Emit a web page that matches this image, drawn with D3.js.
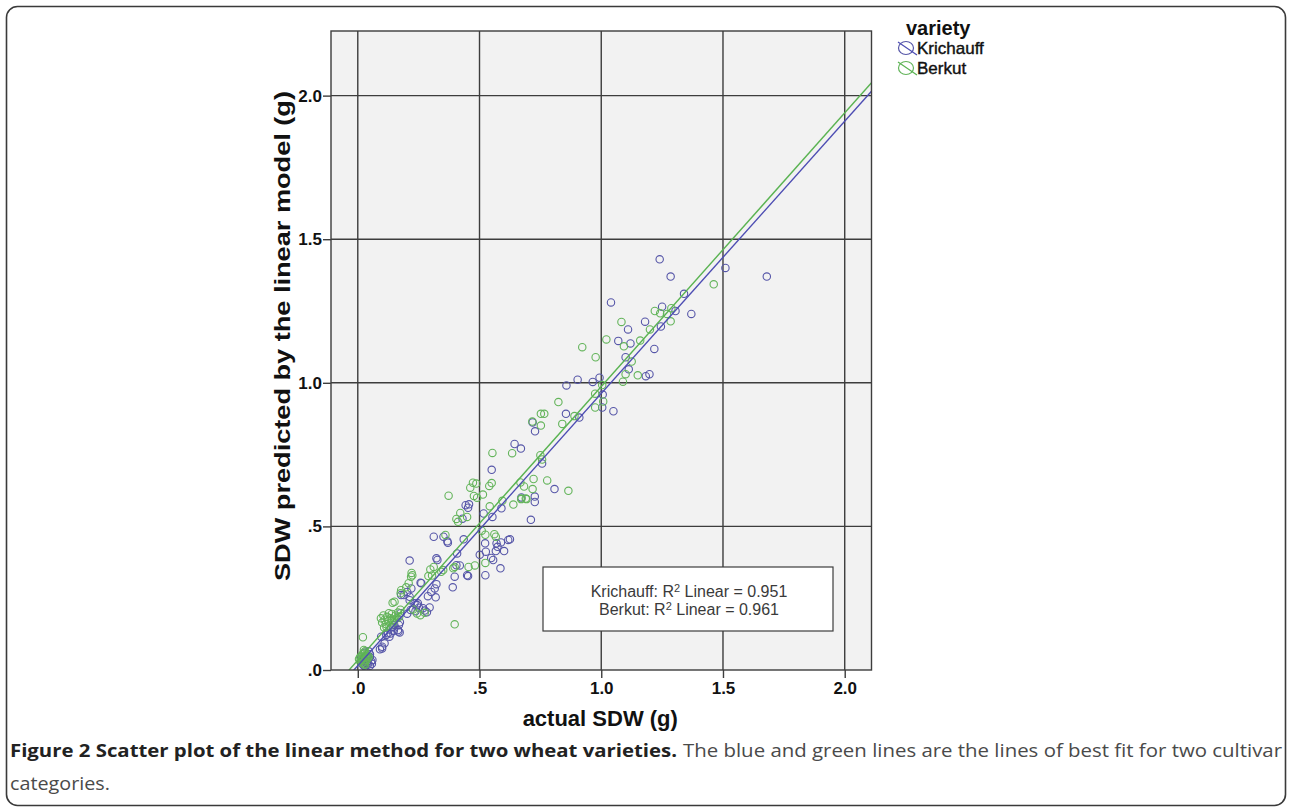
<!DOCTYPE html>
<html>
<head>
<meta charset="utf-8">
<script src="https://cdn.jsdelivr.net/npm/d3@7"></script>
<style>
  html, body { margin: 0; padding: 0; background: #ffffff; }
  svg { display: block; }
</style>
</head>
<body>
<svg id="fig" width="1292" height="812"></svg>
<script>
// ---- data -------------------------------------------------------------
const varieties = ["Krichauff", "Berkut"];

// [actual SDW (g), SDW predicted by the linear model (g)]
const krichauffPoints = [
  [1.24,1.43],[1.51,1.40],[1.68,1.37],[1.285,1.37],[1.34,1.31],[1.04,1.28],[1.25,1.265],
  [1.305,1.25],[1.37,1.24],[1.245,1.196],[1.18,1.213],[1.11,1.186],[1.07,1.146],[1.12,1.137],
  [1.218,1.118],[1.10,1.089],[1.113,1.047],[1.198,1.03],[1.183,1.023],[0.903,1.011],
  [0.965,1.003],[0.993,1.018],[0.857,0.991],[1.006,0.959],[1.004,0.914],[1.05,0.901],
  [0.855,0.892],[0.91,0.879],[0.718,0.862],[0.728,0.831],[0.644,0.787],[0.67,0.771],
  [0.757,0.719],[0.55,0.697],
  [0.808,0.63],[0.727,0.604],[0.727,0.585],[0.711,0.523],[0.672,0.601],[0.443,0.574],
  [0.453,0.565],[0.457,0.577],[0.43,0.527],[0.517,0.545],[0.553,0.533],[0.59,0.563],
  [0.312,0.464],[0.352,0.464],[0.368,0.448],[0.37,0.443],[0.435,0.455],[0.523,0.441],[0.57,0.441],
  [0.588,0.444],[0.618,0.453],[0.625,0.455],[0.501,0.401],[0.526,0.412],[0.567,0.414],
  [0.574,0.429],[0.601,0.414],[0.556,0.383],[0.548,0.39],[0.586,0.354],[0.524,0.33],
  [0.449,0.33],[0.408,0.406],[0.405,0.365],[0.419,0.364],[0.398,0.325],[0.39,0.288],
  [0.453,0.327],[0.323,0.389],[0.327,0.383],[0.213,0.381],[0.261,0.302],[0.258,0.304],[0.323,0.299],
  [0.316,0.284],[0.32,0.253],[0.288,0.257],[0.302,0.272],[0.22,0.284],[0.203,0.272],[0.189,0.261],
  [0.213,0.255],[0.178,0.261],[0.213,0.243],[0.247,0.232],[0.251,0.217],[0.233,0.232],[0.217,0.209],
  [0.244,0.226],[0.237,0.205],[0.268,0.215],[0.295,0.218],[0.284,0.201],[0.275,0.207],
  [0.176,0.198],[0.203,0.196],[0.165,0.139],[0.172,0.131],[0.137,0.148],[0.148,0.137],
  [0.124,0.128],[0.13,0.116],[0.117,0.122],[0.096,0.116],[0.11,0.093],[0.1,0.081],[0.091,0.072],
  [0.1,0.075],[0.173,0.166],[0.15,0.157],[0.169,0.157],[0.167,0.134],[0.135,0.127],[0.144,0.151],
  [0.03,0.012],[0.04,0.018],[0.05,0.015],[0.02,0.02],[0.035,0.025],[0.055,0.03],[0.045,0.04],
  [0.06,0.035],[0.025,0.035],[0.04,0.05],[0.05,0.055],[0.03,0.06],[0.045,0.065],[0.015,0.045],
  [0.02,0.03],[0.058,0.022],[0.035,0.045],[0.05,0.045],[0.04,0.03],[0.025,0.015]
];

const berkutPoints = [
  [1.462,1.343],[1.22,1.25],[1.288,1.26],[1.242,1.242],[1.27,1.24],[1.083,1.212],[1.285,1.214],
  [1.2,1.186],[1.021,1.151],[0.922,1.124],[1.093,1.127],[1.16,1.147],[0.977,1.089],
  [1.125,1.074],[1.15,1.026],[1.1,1.03],[1.089,1.004],[1.004,0.992],[0.975,0.962],
  [1.008,0.935],[0.975,0.914],[0.824,0.933],[0.89,0.884],[0.717,0.865],[0.752,0.892],
  [0.766,0.892],[0.752,0.851],[0.84,0.857],[0.634,0.755],[0.553,0.756],[0.75,0.748],
  [0.757,0.733],
  [0.473,0.652],[0.487,0.649],[0.55,0.651],[0.462,0.635],[0.54,0.641],[0.668,0.653],
  [0.683,0.639],[0.722,0.665],[0.778,0.66],[0.865,0.624],[0.718,0.63],[0.693,0.595],
  [0.671,0.595],[0.639,0.576],[0.373,0.607],[0.477,0.606],[0.514,0.611],[0.49,0.6],
  [0.421,0.547],[0.449,0.533],[0.405,0.526],[0.412,0.516],[0.542,0.57],[0.594,0.589],
  [0.672,0.597],[0.69,0.597],[0.36,0.47],[0.509,0.485],[0.524,0.471],[0.561,0.473],
  [0.567,0.464],[0.524,0.373],[0.481,0.364],[0.455,0.359],[0.398,0.359],[0.392,0.354],
  [0.351,0.348],[0.343,0.342],[0.298,0.35],[0.312,0.359],[0.221,0.338],[0.224,0.33],
  [0.219,0.325],[0.29,0.327],[0.305,0.329],[0.209,0.302],[0.199,0.288],[0.178,0.278],
  [0.176,0.267],[0.151,0.238],[0.143,0.234],[0.243,0.197],[0.257,0.191],[0.275,0.199],
  [0.227,0.211],[0.398,0.159],[0.021,0.114],
  [0.095,0.18],[0.1,0.165],[0.105,0.19],[0.11,0.175],[0.115,0.16],[0.12,0.185],[0.125,0.17],
  [0.13,0.155],[0.135,0.18],[0.14,0.195],[0.145,0.165],[0.15,0.175],[0.155,0.19],[0.16,0.18],
  [0.165,0.2],[0.17,0.185],[0.118,0.15],[0.128,0.198],[0.108,0.148],[0.14,0.172],[0.175,0.21],
  [0.01,0.03],[0.015,0.05],[0.02,0.04],[0.025,0.06],[0.03,0.045],[0.035,0.055],[0.02,0.025],
  [0.03,0.03],[0.04,0.04],[0.025,0.02],[0.015,0.035],[0.035,0.035],[0.04,0.05],[0.01,0.045],
  [0.02,0.055],[0.03,0.065],[0.045,0.045],[0.03,0.018],[0.005,0.038],[0.025,0.07]
];

// least-squares lines of best fit, one per variety
const fitIntercepts = [0.015, 0.034];
const fitSlopes = [0.948, 0.953];
const fitR2 = ["0.951", "0.961"];

const xTickValues = [0, 0.5, 1.0, 1.5, 2.0];
const xTickLabels = [".0", ".5", "1.0", "1.5", "2.0"];
const yTickValues = [0, 0.5, 1.0, 1.5, 2.0];
const yTickLabels = [".0", ".5", "1.0", "1.5", "2.0"];

const xTitle = "actual SDW (g)";
const yTitle = "SDW predicted by the linear model (g)";
const legendTitle = "variety";
const captionBold = "Figure 2 Scatter plot of the linear method for two wheat varieties.";
const captionRest = "The blue and green lines are the lines of best fit for two cultivar";
const captionLine2 = "categories.";

// ---- layout -----------------------------------------------------------
const plot = { left: 331, right: 871.5, top: 31, bottom: 670 };
const pointColors = ["#5656a8", "#63b45a"];
const lineColors = ["#4d4db3", "#5ab352"];
const gridColor = "#3d3d3d";
const chartFont = "'Liberation Sans', Arial, sans-serif";
const captionFont = "'Open Sans', 'Noto Sans', sans-serif";

const svg = d3.select("#fig");

// outer figure frame
svg.append("rect")
  .attr("x", 6.5).attr("y", 6.5)
  .attr("width", 1279).attr("height", 799)
  .attr("rx", 11).attr("ry", 11)
  .attr("fill", "#ffffff")
  .attr("stroke", "#3a3a3a").attr("stroke-width", 1.6);

const x = d3.scaleLinear().domain([-0.11, 2.11]).range([plot.left, plot.right]);
const y = d3.scaleLinear().domain([0, 2.225]).range([plot.bottom, plot.top]);

// plot background
svg.append("rect")
  .attr("x", plot.left).attr("y", plot.top)
  .attr("width", plot.right - plot.left).attr("height", plot.bottom - plot.top)
  .attr("fill", "#f2f2f2");

// grid lines
const grid = svg.append("g").attr("stroke", gridColor).attr("stroke-width", 1.4);
grid.selectAll("line.gx").data(xTickValues).join("line")
  .attr("class", "gx")
  .attr("x1", d => x(d)).attr("x2", d => x(d))
  .attr("y1", plot.top).attr("y2", plot.bottom);
grid.selectAll("line.gy").data(yTickValues.filter(d => d > 0)).join("line")
  .attr("class", "gy")
  .attr("x1", plot.left).attr("x2", plot.right)
  .attr("y1", d => y(d)).attr("y2", d => y(d));

// clip region for the data layer
svg.append("defs").append("clipPath").attr("id", "plotClip")
  .append("rect")
  .attr("x", plot.left).attr("y", plot.top)
  .attr("width", plot.right - plot.left).attr("height", plot.bottom - plot.top);

const dataLayer = svg.append("g").attr("clip-path", "url(#plotClip)");

// points, one layer per variety
const seriesPoints = [krichauffPoints, berkutPoints];
seriesPoints.forEach((pts, i) => {
  dataLayer.append("g")
    .selectAll("circle").data(pts).join("circle")
    .attr("cx", d => x(d[0])).attr("cy", d => y(d[1]))
    .attr("r", 3.7)
    .attr("fill", "none")
    .attr("stroke", pointColors[i])
    .attr("stroke-width", 1.1);
});

// fit lines across the full x range
const xDomain = x.domain();
varieties.forEach((v, i) => {
  const ends = xDomain.map(xv => [xv, fitIntercepts[i] + fitSlopes[i] * xv]);
  dataLayer.append("path")
    .attr("d", d3.line().x(d => x(d[0])).y(d => y(d[1]))(ends))
    .attr("fill", "none")
    .attr("stroke", lineColors[i])
    .attr("stroke-width", 1.4);
});

// plot border
svg.append("rect")
  .attr("x", plot.left).attr("y", plot.top)
  .attr("width", plot.right - plot.left).attr("height", plot.bottom - plot.top)
  .attr("fill", "none").attr("stroke", gridColor).attr("stroke-width", 1.4);

// axes
const xAxis = d3.axisBottom(x).tickValues(xTickValues)
  .tickFormat((d, i) => xTickLabels[i]).tickSize(8).tickPadding(4);
const yAxis = d3.axisLeft(y).tickValues(yTickValues)
  .tickFormat((d, i) => yTickLabels[i]).tickSize(8).tickPadding(1);

const gx = svg.append("g").attr("transform", `translate(0,${plot.bottom})`).call(xAxis);
const gy = svg.append("g").attr("transform", `translate(${plot.left},0)`).call(yAxis);
[gx, gy].forEach(g => {
  g.select(".domain").remove();
  g.selectAll(".tick line").attr("stroke", gridColor).attr("stroke-width", 1.4);
  g.selectAll(".tick text")
    .attr("fill", "#111")
    .style("font-family", chartFont)
    .style("font-size", "17px")
    .style("font-weight", "bold");
});

// axis titles
svg.append("text")
  .attr("x", (x(0) + x(2)) / 2 - 1).attr("y", 726)
  .attr("text-anchor", "middle")
  .attr("fill", "#111")
  .style("font-family", chartFont).style("font-size", "22px").style("font-weight", "bold")
  .text(xTitle);

svg.append("text")
  .attr("transform", `translate(290,336) rotate(-90)`)
  .attr("text-anchor", "middle")
  .attr("textLength", 490).attr("lengthAdjust", "spacingAndGlyphs")
  .attr("fill", "#111")
  .style("font-family", chartFont).style("font-size", "22px").style("font-weight", "bold")
  .text(yTitle);

// R-squared annotation box
const r2Box = { x0: 543, y0: 567, x1: 833, y1: 631 };
svg.append("rect")
  .attr("x", r2Box.x0).attr("y", r2Box.y0)
  .attr("width", r2Box.x1 - r2Box.x0).attr("height", r2Box.y1 - r2Box.y0)
  .attr("fill", "#ffffff").attr("stroke", "#3d3d3d").attr("stroke-width", 1.2);

varieties.forEach((v, i) => {
  const t = svg.append("text")
    .attr("x", (r2Box.x0 + r2Box.x1) / 2 + 1).attr("y", 597 + i * 18)
    .attr("text-anchor", "middle")
    .attr("fill", "#3a3a3a")
    .style("font-family", chartFont).style("font-size", "16px");
  t.append("tspan").text(`${v}: R`);
  t.append("tspan").attr("dy", -5).style("font-size", "11px").text("2");
  t.append("tspan").attr("dy", 5).text(` Linear = ${fitR2[i]}`);
});

// legend
const legend = svg.append("g");
legend.append("text")
  .attr("x", 906).attr("y", 35)
  .attr("fill", "#111")
  .style("font-family", chartFont).style("font-size", "20px").style("font-weight", "bold")
  .text(legendTitle);

varieties.forEach((v, i) => {
  const cy = 48 + i * 20;
  const item = legend.append("g").attr("transform", `translate(906,${cy})`);
  item.append("ellipse")
    .attr("rx", 7.5).attr("ry", 6.5)
    .attr("fill", "none").attr("stroke", pointColors[i]).attr("stroke-width", 1.2);
  item.append("line")
    .attr("x1", -8).attr("y1", -6).attr("x2", 11).attr("y2", 7)
    .attr("stroke", lineColors[i]).attr("stroke-width", 1.2);
  legend.append("text")
    .attr("x", 917).attr("y", cy + 6)
    .attr("fill", "#111")
    .attr("stroke", "#111").attr("stroke-width", 0.4)
    .style("font-family", chartFont).style("font-size", "17px")
    .text(v);
});

// caption
svg.append("text")
  .attr("x", 10).attr("y", 757)
  .attr("textLength", 667).attr("lengthAdjust", "spacingAndGlyphs")
  .attr("fill", "#222")
  .style("font-family", captionFont).style("font-size", "18px").style("font-weight", "bold")
  .text(captionBold);
svg.append("text")
  .attr("x", 683).attr("y", 757)
  .attr("textLength", 599).attr("lengthAdjust", "spacingAndGlyphs")
  .attr("fill", "#4a4a4a")
  .style("font-family", captionFont).style("font-size", "18px")
  .text(captionRest);
svg.append("text")
  .attr("x", 10).attr("y", 790)
  .attr("textLength", 100).attr("lengthAdjust", "spacingAndGlyphs")
  .attr("fill", "#4a4a4a")
  .style("font-family", captionFont).style("font-size", "18px")
  .text(captionLine2);
</script>
</body>
</html>
